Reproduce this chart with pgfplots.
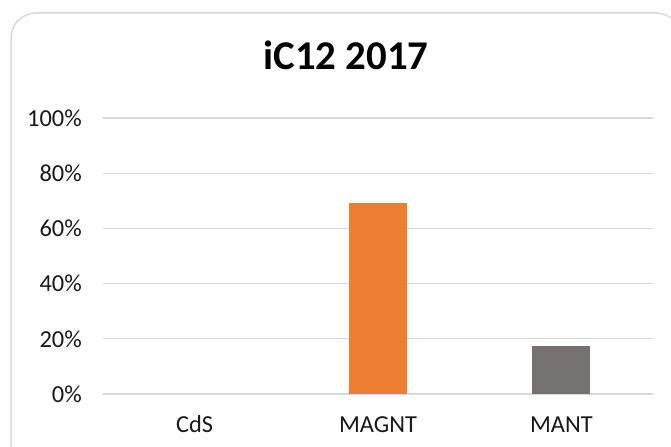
\documentclass[border=0pt]{standalone}
\usepackage{pgfplots}
\pgfplotsset{compat=1.18}
\usepackage{fontspec}
\setmainfont{Carlito}
\definecolor{gridc}{HTML}{D9D9D9}
\definecolor{orangebar}{HTML}{ED7D31}
\definecolor{graybar}{HTML}{767171}
\begin{document}
\begin{tikzpicture}
\useasboundingbox (0,0) rectangle (671bp,447bp);
\clip (0,0) rectangle (671bp,447bp);
\fill[white] (0,0) rectangle (671bp,447bp);
\draw[gridc, line width=1.5bp, rounded corners=25bp] (11bp,-30bp) rectangle (681bp,434bp);
\begin{axis}[
  at={(103bp,53bp)}, anchor=south west,
  scale only axis, width=550bp, height=276bp,
  xmin=-0.5, xmax=2.5, ymin=0, ymax=1,
  xtick={0,1,2}, xticklabels={CdS,MAGNT,MANT},
  ytick={0,0.2,0.4,0.6,0.8,1},
  yticklabels={0\%,20\%,40\%,60\%,80\%,100\%},
  /pgf/number format/assume math mode=true,
  axis line style={draw=none},
  major tick length=0pt,
  ymajorgrids, grid style={gridc, line width=1.3bp},
  ticklabel style={font=\fontsize{24.5}{29}\selectfont, text=black!90},
  yticklabel style={anchor=east, inner sep=0pt, xshift=-21bp},
  xticklabel style={anchor=base, inner sep=0pt, yshift=-38bp},
  ybar, bar width=58bp,
  clip=false,
]
\addplot[fill=none, draw=none, bar shift=0pt] coordinates {(0,0)};
\addplot[fill=orangebar, draw=none, bar shift=0pt] coordinates {(1,0.692)};
\addplot[fill=graybar, draw=none, bar shift=0pt] coordinates {(2,0.174)};
\end{axis}
\node[anchor=base, font=\fontsize{41}{48}\selectfont\bfseries, text=black] at (346bp,377bp) {iC12 2017};
\end{tikzpicture}
\end{document}
